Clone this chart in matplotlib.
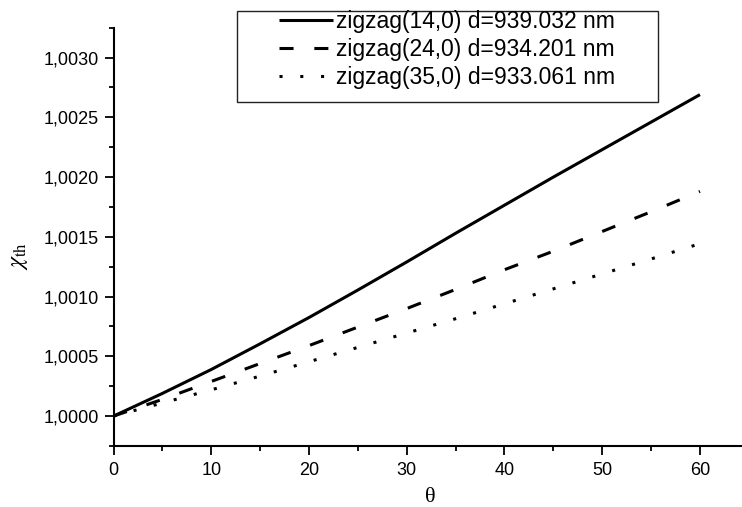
import matplotlib
matplotlib.use("Agg")
import matplotlib.pyplot as plt
from matplotlib.ticker import MultipleLocator, FuncFormatter
from matplotlib.patches import Rectangle

# Angle theta (degrees)
theta = [0, 5, 10, 15, 20, 25, 30, 35, 40, 45, 50, 55, 60]

# chi_th - 1 (in units of 1e-3) for the three zigzag nanotubes
chi_14 = [0.0, 0.19, 0.39, 0.605, 0.825, 1.055, 1.29, 1.53, 1.765, 2.00, 2.23, 2.46, 2.69]
chi_24 = [0.0, 0.14, 0.29, 0.44, 0.59, 0.745, 0.90, 1.06, 1.225, 1.38, 1.545, 1.71, 1.88]
chi_35 = [0.0, 0.11, 0.22, 0.335, 0.455, 0.575, 0.695, 0.815, 0.94, 1.065, 1.19, 1.315, 1.443]

labels = ["zigzag(14,0) d=939.032 nm",
          "zigzag(24,0) d=934.201 nm",
          "zigzag(35,0) d=933.061 nm"]

W, H = 742, 507
fig = plt.figure(figsize=(W / 100, H / 100), dpi=100)
ax = fig.add_axes([113.5 / W, 1 - 446 / H, (W - 113.5) / W, (446 - 27.7) / H])

sans = ["Liberation Sans", "DejaVu Sans"]
serif = ["Liberation Serif", "DejaVu Serif"]

lw = 2.2
series = [chi_14, chi_24, chi_35]
styles = [dict(linestyle="-"),
          dict(linestyle=(0, (4.6, 6.8))),
          dict(linestyle=(0, (1.0, 5.8)))]
handles = []
for ys, st, lab in zip(series, styles, labels):
    vals = [1 + v * 1e-3 for v in ys]
    h, = ax.plot(theta, vals, color="black", lw=lw, label=lab,
                 solid_capstyle="butt", dash_capstyle="butt",
                 solid_joinstyle="round", **st)
    handles.append(h)

ax.set_xlim(0, 64.3)
ax.set_ylim(0.99975, 1.00325)

for side in ("top", "right"):
    ax.spines[side].set_visible(False)
for side in ("left", "bottom"):
    ax.spines[side].set_linewidth(1.5)

ax.xaxis.set_major_locator(MultipleLocator(10))
ax.xaxis.set_minor_locator(MultipleLocator(5))
ax.yaxis.set_major_locator(MultipleLocator(0.0005))
ax.yaxis.set_minor_locator(MultipleLocator(0.00025))
ax.yaxis.set_major_formatter(FuncFormatter(lambda v, p: f"{v:.4f}".replace(".", ",")))

ax.tick_params(which="major", direction="out", length=6.5, width=1.3, labelsize=13)
ax.tick_params(which="minor", direction="out", length=3.5, width=1.3)
ax.tick_params(axis="x", pad=5)
ax.tick_params(axis="y", pad=4)
for lab in ax.get_xticklabels() + ax.get_yticklabels():
    lab.set_family(sans)

fig.text(430 / W, 1 - 498 / H, "θ", family=serif, fontsize=16,
         ha="center", va="center")
fig.text(18 / W, 1 - 256 / H, r"$\chi_{\mathrm{th}}$", fontsize=17,
         rotation=90, ha="center", va="center",
         math_fontfamily="stix")

# Legend frame and entries
fig.patches.append(Rectangle((237 / W, 1 - 102 / H), (658 - 237) / W, (102 - 11) / H,
                             transform=fig.transFigure, fill=False,
                             edgecolor="#222222", linewidth=1.0))
fig.legend(handles=handles, loc="upper left",
           bbox_to_anchor=(279 / W, 1 - 10 / H), borderaxespad=0,
           borderpad=0, frameon=False, handlelength=2.35, handletextpad=0.15,
           labelspacing=0.21, prop=dict(family=sans, size=16.5))

fig.savefig("out.png", dpi=100)
